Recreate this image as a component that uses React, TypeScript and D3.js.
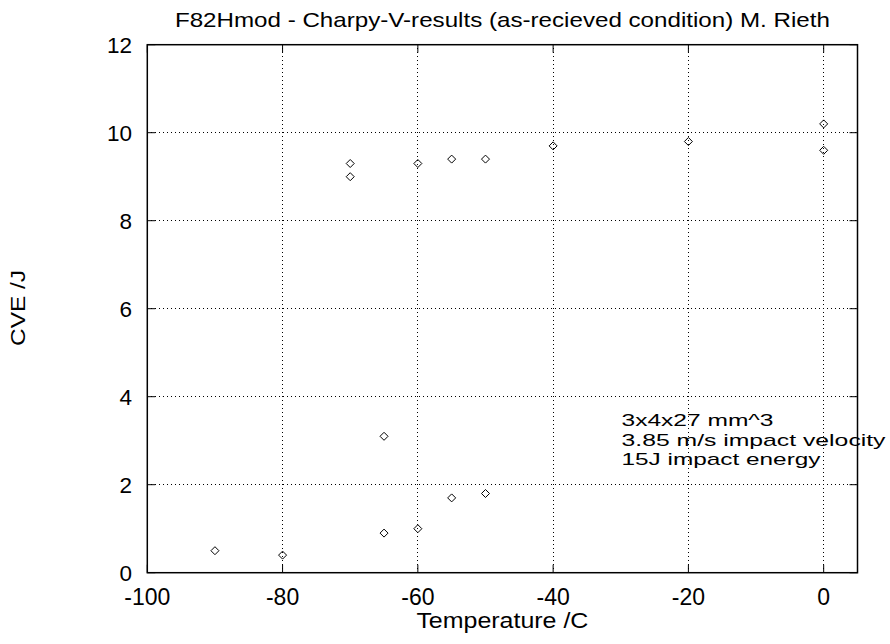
import React from "react";
import * as d3 from "d3";

const temperatures = [-90, -80, -65, -65, -60, -55, -50, -70, -70, -60, -55, -50, -40, -20, 0, 0];
const energies = [0.5, 0.4, 0.9, 3.1, 1.0, 1.7, 1.8, 9.3, 9.0, 9.3, 9.4, 9.4, 9.7, 9.8, 10.2, 9.6];
const xTicks = [-100, -80, -60, -40, -20, 0];
const yTicks = [0, 2, 4, 6, 8, 10, 12];
const annotation = ["3x4x27 mm^3", "3.85 m/s impact velocity", "15J impact energy"];
const annotationWidths = [152, 264, 199];
const title = "F82Hmod - Charpy-V-results (as-recieved condition) M. Rieth";

export default function App() {
  const W = 890, H = 644;
  const left = 147.3, right = 857.5, top = 44.7, bottom = 572.7;
  const x = d3.scaleLinear().domain([-100, 5]).range([left, right]);
  const y = d3.scaleLinear().domain([0, 12]).range([bottom, top]);
  const font = "'Liberation Sans', Arial, Helvetica, sans-serif";
  const tick = 8;
  const cx = (left + right) / 2;
  const dia = (px: number, py: number) => `M${px},${py - 4}L${px + 4},${py}L${px},${py + 4}L${px - 4},${py}Z`;
  return (
    <svg width={W} height={H} style={{ position: "absolute", left: 0, top: 0, background: "#fff" }}>
      <rect x={0} y={0} width={W} height={H} fill="#fff" />
      {xTicks.filter(t => t > -100).map(t => (
        <line key={"gx" + t} x1={x(t)} x2={x(t)} y1={bottom} y2={top} stroke="#000" strokeWidth={1} strokeDasharray="1,3" shapeRendering="crispEdges" />
      ))}
      {yTicks.filter(t => t > 0 && t < 12).map(t => (
        <line key={"gy" + t} x1={left} x2={right} y1={y(t)} y2={y(t)} stroke="#000" strokeWidth={1} strokeDasharray="1,3" shapeRendering="crispEdges" />
      ))}
      {xTicks.map(t => (
        <g key={"tx" + t}>
          <line x1={x(t)} x2={x(t)} y1={bottom} y2={bottom - tick} stroke="#000" />
          <line x1={x(t)} x2={x(t)} y1={top} y2={top + tick} stroke="#000" />
          <text x={x(t)} y={605} textAnchor="middle" fontFamily={font} fontSize={23}>{t}</text>
        </g>
      ))}
      {yTicks.map(t => (
        <g key={"ty" + t}>
          <line x1={left} x2={left + tick} y1={y(t)} y2={y(t)} stroke="#000" />
          <line x1={right} x2={right - tick} y1={y(t)} y2={y(t)} stroke="#000" />
          <text x={132} y={y(t) + 8} textAnchor="end" fontFamily={font} fontSize={22.5}>{t}</text>
        </g>
      ))}
      <rect x={left} y={top} width={right - left} height={bottom - top} fill="none" stroke="#000" strokeWidth={1.5} />
      {temperatures.map((t, i) => (
        <path key={"p" + i} d={dia(x(t), y(energies[i]))} fill="none" stroke="#000" strokeWidth={1} />
      ))}
      {annotation.map((s, i) => (
        <text key={"a" + i} x={621.5} y={426 + i * 19.5} fontFamily={font} fontSize={17}
          textLength={annotationWidths[i]} lengthAdjust="spacingAndGlyphs">{s}</text>
      ))}
      <text x={cx} y={27} textAnchor="middle" fontFamily={font} fontSize={21} textLength={655} lengthAdjust="spacingAndGlyphs">{title}</text>
      <text x={cx} y={628} textAnchor="middle" fontFamily={font} fontSize={22} textLength={172} lengthAdjust="spacingAndGlyphs">Temperature /C</text>
      <text transform={`translate(25,308) rotate(-90)`} textAnchor="middle" fontFamily={font} fontSize={21} textLength={76} lengthAdjust="spacingAndGlyphs">CVE /J</text>
    </svg>
  );
}
